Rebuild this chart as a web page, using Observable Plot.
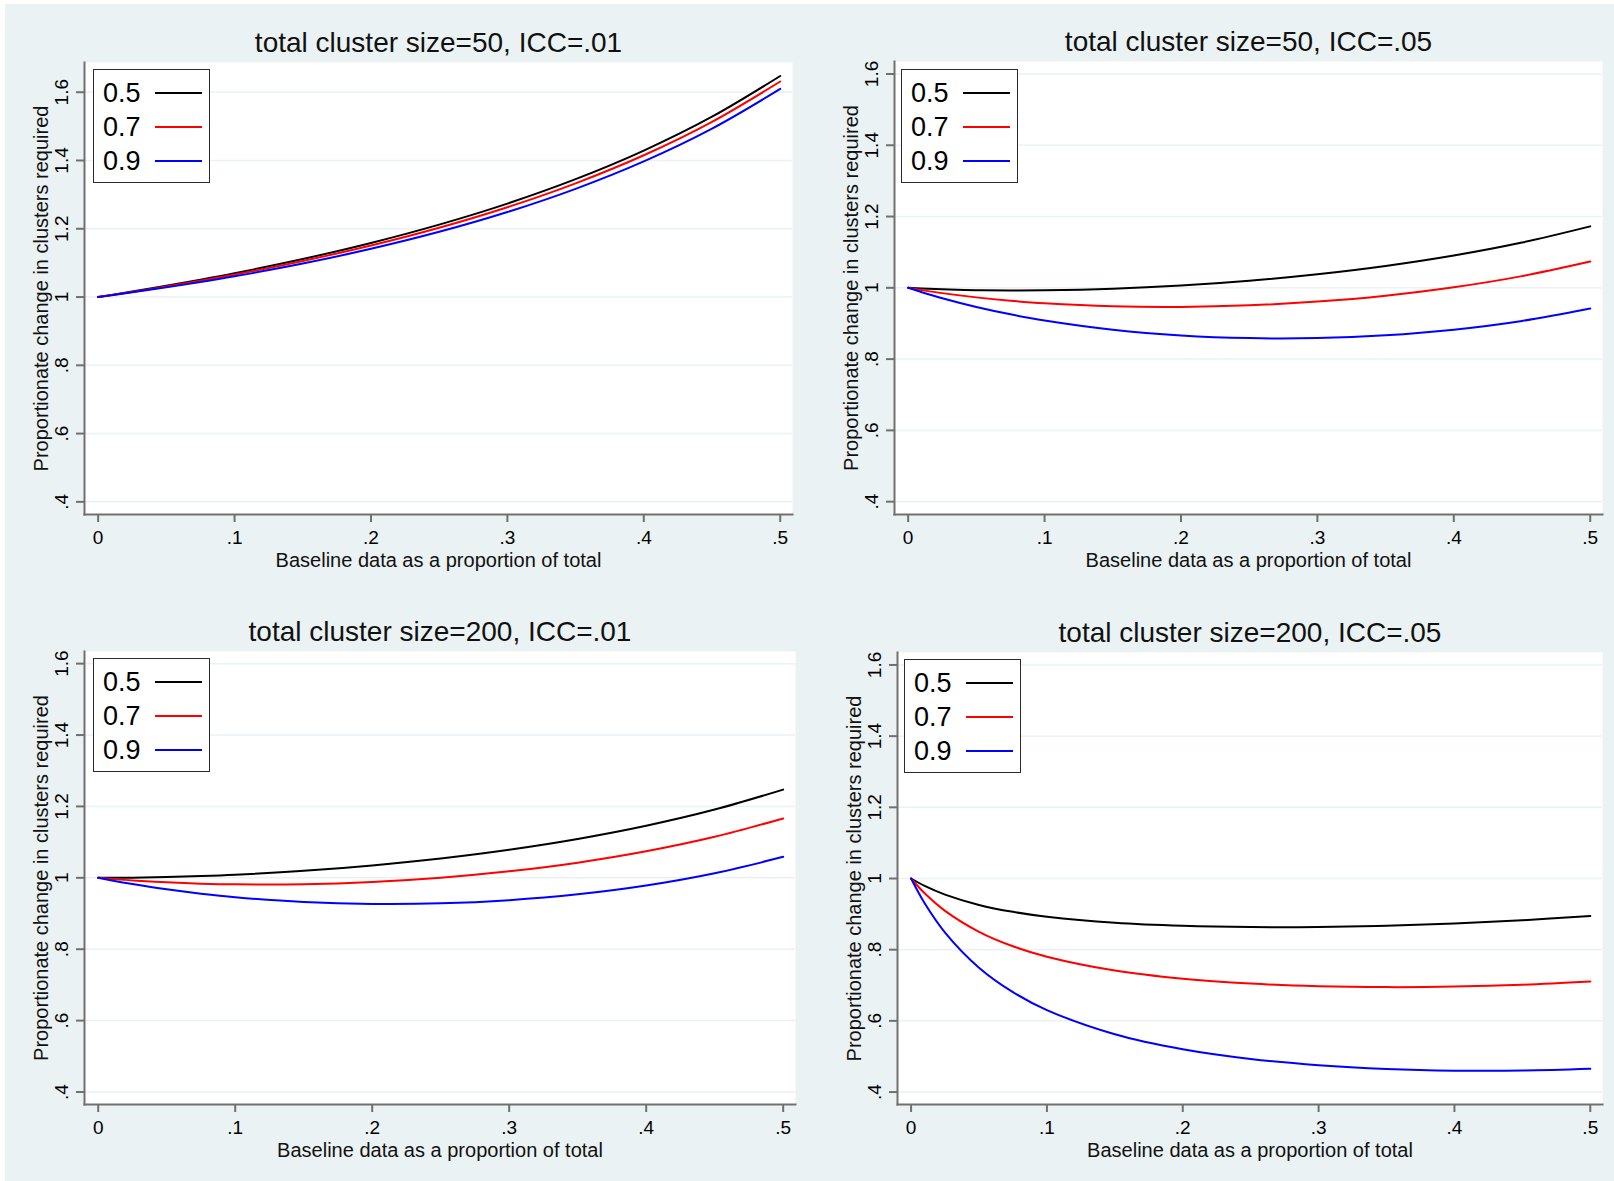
<!DOCTYPE html>
<html>
<head>
<meta charset="utf-8">
<script src="https://cdn.jsdelivr.net/npm/d3@7"></script>
<script src="https://cdn.jsdelivr.net/npm/@observablehq/plot@0.6"></script>
<style>
  html, body { margin: 0; padding: 0; }
  body { background: #ffffff; width: 1614px; height: 1181px; overflow: hidden; position: relative;
         font-family: "Liberation Sans", Arial, sans-serif; }
  #bg { position: absolute; left: 5px; top: 4px; right: 0; bottom: 0; background: #EAF2F3; }
  .panel { position: absolute; }
  .legend { position: absolute; width: 117px; height: 114px; background: #fff; border: 1.5px solid #2b2b2b; box-sizing: border-box; }
  .legend .lab { position: absolute; left: 9px; font-size: 27px; line-height: 30px; color: #000; transform: translateY(-50%); }
  .legend .sw { position: absolute; left: 61px; width: 47px; height: 2px; transform: translateY(-50%); }
</style>
</head>
<body>
<div id="bg"></div>
<script>
// ---- data ----
const xValues = [0, 0.01, 0.025, 0.05, 0.075, 0.1, 0.15, 0.2, 0.25, 0.3, 0.35, 0.4, 0.45, 0.5];

const seriesLabels = ["0.5", "0.7", "0.9"];
const seriesColors = ["#000000", "#ff0000", "#0000ff"];

const titles = [
  "total cluster size=50, ICC=.01",
  "total cluster size=50, ICC=.05",
  "total cluster size=200, ICC=.01",
  "total cluster size=200, ICC=.05"
];
const xTitle = "Baseline data as a proportion of total";
const yTitle = "Proportionate change in clusters required";

const xTicks = [0, 0.1, 0.2, 0.3, 0.4, 0.5];
const xTickLabels = ["0", ".1", ".2", ".3", ".4", ".5"];
const yTicks = [0.4, 0.6, 0.8, 1, 1.2, 1.4, 1.6];
const yTickLabels = [".4", ".6", ".8", "1", "1.2", "1.4", "1.6"];

// size 50, ICC .01
const s50i01_05 = [1, 1.0063, 1.0160, 1.0329, 1.0508, 1.0698, 1.1113, 1.1584, 1.2121, 1.2737, 1.3452, 1.4289, 1.5281, 1.6475];
const s50i01_07 = [1, 1.0059, 1.0150, 1.0309, 1.0479, 1.0659, 1.1057, 1.1510, 1.2030, 1.2631, 1.3331, 1.4153, 1.5132, 1.6313];
const s50i01_09 = [1, 1.0054, 1.0137, 1.0283, 1.0439, 1.0608, 1.0981, 1.1412, 1.1910, 1.2490, 1.3170, 1.3973, 1.4933, 1.6096];
// size 50, ICC .05
const s50i05_05 = [1, 0.9981, 0.9959, 0.9934, 0.9925, 0.9929, 0.9973, 1.0064, 1.0199, 1.0381, 1.0614, 1.0907, 1.1271, 1.1724];
const s50i05_07 = [1, 0.9937, 0.9851, 0.9732, 0.9638, 0.9566, 0.9481, 0.9464, 0.9509, 0.9614, 0.9780, 1.0015, 1.0328, 1.0736];
const s50i05_09 = [1, 0.9877, 0.9708, 0.9462, 0.9256, 0.9083, 0.8825, 0.8664, 0.8589, 0.8591, 0.8669, 0.8826, 0.9071, 0.9419];
// size 200, ICC .01
const s200i01_05 = [1, 1.0000, 1.0005, 1.0021, 1.0049, 1.0087, 1.0195, 1.0347, 1.0543, 1.0788, 1.1090, 1.1460, 1.1913, 1.2471];
const s200i01_07 = [1, 0.9969, 0.9927, 0.9874, 0.9837, 0.9817, 0.9822, 0.9885, 1.0004, 1.0182, 1.0425, 1.0743, 1.1148, 1.1664];
const s200i01_09 = [1, 0.9926, 0.9825, 0.9677, 0.9556, 0.9457, 0.9324, 0.9269, 0.9286, 0.9375, 0.9539, 0.9786, 1.0129, 1.0588];
// size 200, ICC .05
const s200i05_05 = [1, 0.9791, 0.9547, 0.9258, 0.9063, 0.8926, 0.8755, 0.8669, 0.8635, 0.8638, 0.8672, 0.8733, 0.8825, 0.8949];
const s200i05_07 = [1, 0.9583, 0.9090, 0.8503, 0.8096, 0.7802, 0.7413, 0.7183, 0.7047, 0.6973, 0.6948, 0.6962, 0.7015, 0.7107];
const s200i05_09 = [1, 0.9304, 0.8481, 0.7495, 0.6807, 0.6303, 0.5624, 0.5202, 0.4929, 0.4754, 0.4649, 0.4601, 0.4602, 0.4651];

// ---- layout ----
const axisColor = "#707070";
const gridColor = "#EAF2F3";
const font = "'Liberation Sans', Arial, sans-serif";

const panels = [
  {title: titles[0], series: [s50i01_05, s50i01_07, s50i01_09], left: 0, top: 0, width: 807, height: 590,
   m: {l: 84, r: 15, t: 62, b: 76}, yDomain: [0.363, 1.687], legend: {x: 93, y: 69}},
  {title: titles[1], series: [s50i05_05, s50i05_07, s50i05_09], left: 807, top: 0, width: 807, height: 590,
   m: {l: 87, r: 12, t: 61, b: 76}, yDomain: [0.364, 1.635], legend: {x: 901, y: 69}},
  {title: titles[2], series: [s200i01_05, s200i01_07, s200i01_09], left: 0, top: 590, width: 807, height: 591,
   m: {l: 84, r: 12, t: 61, b: 77}, yDomain: [0.365, 1.634], legend: {x: 93, y: 658}},
  {title: titles[3], series: [s200i05_05, s200i05_07, s200i05_09], left: 807, top: 590, width: 807, height: 591,
   m: {l: 90, r: 12, t: 62, b: 77}, yDomain: [0.365, 1.635], legend: {x: 904, y: 659}}
];

for (const p of panels) {
  const rows = p.series.flatMap((vals, i) => vals.map((v, j) => ({x: xValues[j], y: v, k: seriesLabels[i]})));
  const chart = Plot.plot({
    width: p.width,
    height: p.height,
    marginLeft: p.m.l, marginRight: p.m.r, marginTop: p.m.t, marginBottom: p.m.b,
    x: {domain: [-0.01, 0.509]},
    y: {domain: p.yDomain},
    color: {domain: seriesLabels, range: seriesColors},
    style: {background: "transparent", fontFamily: font, color: "#000", overflow: "visible"},
    marks: [
      Plot.frame({fill: "white", stroke: "none"}),
      Plot.gridY(yTicks, {stroke: gridColor, strokeOpacity: 1, strokeWidth: 1.5}),
      Plot.line(rows, {x: "x", y: "y", stroke: "k", z: "k", strokeWidth: 2, curve: "catmull-rom"}),
      Plot.frame({anchor: "left", stroke: axisColor, strokeWidth: 2}),
      Plot.frame({anchor: "bottom", stroke: axisColor, strokeWidth: 2}),
      Plot.axisX(xTicks, {tickSize: 8, tickPadding: 8, fontSize: 19, stroke: axisColor, fill: "#000", strokeWidth: 2,
        tickFormat: d => xTickLabels[xTicks.indexOf(d)], label: null}),
      Plot.axisY(yTicks, {tickSize: 8, tickPadding: 9, tickRotate: -90, fontSize: 19, stroke: axisColor, fill: "#000", strokeWidth: 2,
        tickFormat: d => yTickLabels[yTicks.indexOf(d)], label: null}),
      Plot.text([p.title], {frameAnchor: "top", dy: -19, lineAnchor: "middle", textAnchor: "middle", fontSize: 28, fill: "#111"}),
      Plot.text([xTitle], {frameAnchor: "bottom", dy: 46, lineAnchor: "middle", textAnchor: "middle", fontSize: 20, fill: "#111"}),
      Plot.text([yTitle], {frameAnchor: "left", dx: -43, rotate: -90, lineAnchor: "middle", textAnchor: "middle", fontSize: 20, fill: "#111"})
    ]
  });
  const wrap = document.createElement("div");
  wrap.className = "panel";
  wrap.style.left = p.left + "px";
  wrap.style.top = p.top + "px";
  wrap.appendChild(chart);
  document.body.appendChild(wrap);

  // legend box
  const lg = document.createElement("div");
  lg.className = "legend";
  lg.style.left = p.legend.x + "px";
  lg.style.top = p.legend.y + "px";
  const rowsY = [23, 57, 91];
  seriesLabels.forEach((lab, i) => {
    const t = document.createElement("div");
    t.className = "lab";
    t.style.top = rowsY[i] + "px";
    t.textContent = lab;
    lg.appendChild(t);
    const sw = document.createElement("div");
    sw.className = "sw";
    sw.style.top = rowsY[i] + "px";
    sw.style.background = seriesColors[i];
    lg.appendChild(sw);
  });
  document.body.appendChild(lg);
}
</script>
</body>
</html>
